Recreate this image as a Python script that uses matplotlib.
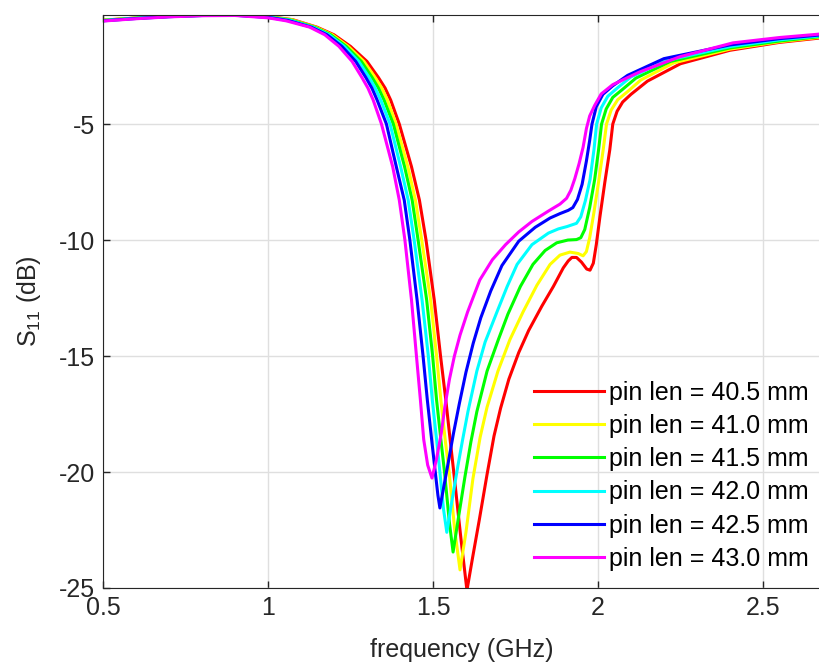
import matplotlib
matplotlib.use('Agg')
import matplotlib.pyplot as plt

plt.rcParams['font.family'] = ['Liberation Sans', 'DejaVu Sans']
plt.rcParams['axes.unicode_minus'] = False

# S11 curves, one (freq, dB) list pair per pin length
freq_405 = [0.50, 0.60, 0.70, 0.80, 0.90, 1.00, 1.075, 1.148, 1.20, 1.25, 1.30, 1.335, 1.355, 1.372, 1.398,
            1.435, 1.459, 1.479, 1.504, 1.523, 1.539, 1.552, 1.563, 1.585, 1.603,
            1.62, 1.64, 1.664, 1.685, 1.705, 1.73, 1.76, 1.79, 1.83, 1.865, 1.895, 1.91, 1.921,
            1.935, 1.950, 1.966, 1.976, 1.986, 1.995, 2.006, 2.021, 2.036, 2.045, 2.058, 2.075,
            2.10, 2.15, 2.25, 2.40, 2.55, 2.673]
s11_405 = [-0.52, -0.43, -0.36, -0.31, -0.30, -0.36, -0.50, -0.82, -1.15, -1.65, -2.30, -3.00, -3.45, -3.97, -5.00,
           -6.84, -8.28, -10.0, -12.59, -15.0, -16.9, -18.6, -20.0, -22.9, -25.1,
           -23.7, -22.1, -20.1, -18.45, -17.25, -16.0, -14.85, -13.9, -12.85, -12.0, -11.2, -10.9, -10.75,
           -10.75, -10.95, -11.25, -11.3, -11.0, -10.2, -9.0, -7.5, -6.1, -5.0, -4.45, -4.05,
           -3.72, -3.15, -2.40, -1.82, -1.48, -1.29]

freq_410 = [0.50, 0.60, 0.70, 0.80, 0.90, 1.00, 1.071, 1.144, 1.195, 1.243, 1.291, 1.325, 1.345, 1.362, 1.388,
            1.424, 1.447, 1.466, 1.493, 1.511, 1.524, 1.537, 1.549, 1.566, 1.582,
            1.60, 1.621, 1.643, 1.664, 1.697, 1.733, 1.773, 1.815, 1.855, 1.885, 1.915, 1.94, 1.955,
            1.965, 1.975, 1.988, 2.003, 2.016, 2.026, 2.04, 2.06, 2.09, 2.13, 2.23, 2.40, 2.55, 2.673]
s11_410 = [-0.52, -0.43, -0.36, -0.31, -0.30, -0.37, -0.50, -0.82, -1.15, -1.65, -2.30, -3.00, -3.45, -3.97, -5.00,
           -6.84, -8.28, -10.0, -12.59, -15.0, -16.9, -18.6, -20.0, -22.5, -24.22,
           -22.6, -20.3, -18.5, -17.2, -15.65, -14.3, -13.1, -11.95, -11.05, -10.65, -10.52, -10.58, -10.68,
           -10.5, -9.9, -8.8, -7.4, -6.1, -5.0, -4.4, -3.95, -3.6, -3.1, -2.36, -1.77, -1.45, -1.26]

freq_415 = [0.50, 0.60, 0.70, 0.80, 0.90, 1.00, 1.068, 1.140, 1.190, 1.237, 1.283, 1.316, 1.335, 1.352, 1.380,
            1.414, 1.437, 1.455, 1.481, 1.499, 1.511, 1.524, 1.535, 1.550, 1.561,
            1.578, 1.597, 1.615, 1.633, 1.664, 1.698, 1.727, 1.765, 1.803, 1.84, 1.875, 1.909, 1.935,
            1.948, 1.96, 1.975, 1.99, 2.002, 2.011, 2.025, 2.045, 2.075, 2.115, 2.22, 2.40, 2.55, 2.673]
s11_415 = [-0.53, -0.43, -0.36, -0.31, -0.30, -0.38, -0.51, -0.82, -1.15, -1.65, -2.30, -3.00, -3.45, -3.97, -5.00,
           -6.84, -8.28, -10.0, -12.59, -15.0, -16.9, -18.6, -20.0, -22.2, -23.45,
           -21.9, -20.2, -18.7, -17.4, -15.65, -14.3, -13.2, -12.0, -11.05, -10.45, -10.12, -10.0, -9.98,
           -9.9, -9.55, -8.6, -7.4, -6.1, -5.0, -4.35, -3.85, -3.5, -3.02, -2.30, -1.72, -1.42, -1.23]

freq_420 = [0.50, 0.60, 0.70, 0.80, 0.90, 1.00, 1.065, 1.136, 1.185, 1.231, 1.275, 1.307, 1.325, 1.342, 1.370,
            1.402, 1.425, 1.443, 1.467, 1.486, 1.498, 1.511, 1.521, 1.532, 1.542,
            1.558, 1.576, 1.59, 1.606, 1.633, 1.658, 1.694, 1.725, 1.755, 1.80, 1.85, 1.88, 1.906, 1.935,
            1.948, 1.962, 1.976, 1.988, 1.996, 2.01, 2.03, 2.06, 2.10, 2.21, 2.40, 2.55, 2.673]
s11_420 = [-0.54, -0.44, -0.37, -0.32, -0.31, -0.39, -0.52, -0.82, -1.15, -1.65, -2.30, -3.00, -3.45, -3.97, -5.00,
           -6.84, -8.28, -10.0, -12.59, -15.0, -16.9, -18.6, -20.0, -21.6, -22.6,
           -21.2, -19.7, -18.6, -17.4, -15.65, -14.4, -13.1, -12.0, -11.05, -10.2, -9.7, -9.52, -9.42, -9.28,
           -9.0, -8.3, -7.4, -6.1, -5.0, -4.3, -3.8, -3.43, -2.97, -2.25, -1.66, -1.37, -1.20]

freq_425 = [0.50, 0.60, 0.70, 0.80, 0.90, 1.00, 1.06, 1.131, 1.179, 1.224, 1.266, 1.297, 1.315, 1.331, 1.359,
            1.389, 1.413, 1.430, 1.452, 1.470, 1.483, 1.496, 1.507, 1.515, 1.521,
            1.532, 1.545, 1.562, 1.58, 1.60, 1.622, 1.645, 1.675, 1.709, 1.76, 1.81, 1.855, 1.885, 1.91,
            1.924, 1.938, 1.952, 1.965, 1.975, 1.982, 1.995, 2.015, 2.045, 2.09, 2.20, 2.40, 2.55, 2.673]
s11_425 = [-0.55, -0.45, -0.37, -0.32, -0.31, -0.40, -0.53, -0.82, -1.15, -1.65, -2.30, -3.00, -3.45, -3.97, -5.00,
           -6.84, -8.28, -10.0, -12.59, -15.0, -16.9, -18.6, -20.0, -21.0, -21.55,
           -20.7, -19.7, -18.35, -17.05, -15.7, -14.45, -13.35, -12.2, -11.1, -10.05, -9.45, -9.05, -8.86, -8.72,
           -8.6, -8.25, -7.6, -6.6, -5.7, -5.0, -4.25, -3.72, -3.35, -2.9, -2.18, -1.59, -1.32, -1.16]

freq_430 = [0.50, 0.60, 0.70, 0.80, 0.90, 1.00, 1.055, 1.126, 1.172, 1.215, 1.255, 1.285, 1.303, 1.319, 1.344,
            1.378, 1.398, 1.415, 1.435, 1.450, 1.462, 1.472, 1.484, 1.497,
            1.51, 1.525, 1.536, 1.55, 1.565, 1.582, 1.605, 1.642, 1.68, 1.72, 1.76, 1.80, 1.85, 1.885,
            1.905, 1.918, 1.93, 1.943, 1.955, 1.965, 1.975, 1.99, 2.01, 2.045, 2.127, 2.248, 2.409,
            2.55, 2.673]
s11_430 = [-0.56, -0.46, -0.38, -0.33, -0.32, -0.42, -0.55, -0.82, -1.15, -1.65, -2.30, -3.00, -3.45, -3.97, -5.00,
           -6.84, -8.28, -10.0, -12.59, -15.0, -16.9, -18.6, -19.7, -20.26,
           -19.5, -18.35, -17.2, -16.0, -15.0, -14.1, -13.1, -11.72, -10.85, -10.2, -9.65, -9.2, -8.75, -8.45,
           -8.2, -7.85, -7.35, -6.7, -6.0, -5.2, -4.65, -4.2, -3.7, -3.3, -2.75, -2.1, -1.5,
           -1.27, -1.12]

freqs = [freq_405, freq_410, freq_415, freq_420, freq_425, freq_430]
s11s = [s11_405, s11_410, s11_415, s11_420, s11_425, s11_430]
labels = ['pin len = 40.5 mm', 'pin len = 41.0 mm', 'pin len = 41.5 mm',
          'pin len = 42.0 mm', 'pin len = 42.5 mm', 'pin len = 43.0 mm']
colors = ['#ff0000', '#ffff00', '#00ff00', '#00ffff', '#0000ff', '#ff00ff']

fig = plt.figure(figsize=(8.2, 6.65), dpi=100)
ax = fig.add_axes([0.1256, 0.1158, 0.8744, 0.8616])

for f, s, lab, c in zip(freqs, s11s, labels, colors):
    ax.plot(f, s, color=c, lw=2.2, label=lab, solid_joinstyle='round')

ax.set_xlim(0.5, 2.673)
ax.set_ylim(-25, -0.3)
ax.set_xticks([0.5, 1, 1.5, 2, 2.5])
ax.set_xticklabels(['0.5', '1', '1.5', '2', '2.5'])
ax.set_yticks([-25, -20, -15, -10, -5])
ax.grid(True, color='#dfdfdf', lw=1)
ax.set_axisbelow(True)
ax.spines['right'].set_visible(False)
for sp in ['left', 'top', 'bottom']:
    ax.spines[sp].set_color('#262626')
ax.tick_params(direction='in', top=True, right=False, length=5, width=1,
               labelsize=18, colors='#262626', pad=6)

ax.set_xlabel('frequency (GHz)', fontsize=18, color='#262626', labelpad=13)
ax.set_ylabel('S$_{\\mathregular{11}}$ (dB)', fontsize=18, color='#262626', labelpad=11)

ax.legend(loc='lower right', bbox_to_anchor=(0.985, 0.03), frameon=False, fontsize=18,
          handlelength=2.8, handletextpad=0.2, labelspacing=0.37, borderpad=0, borderaxespad=0)

fig.savefig('out.png', dpi=100)
